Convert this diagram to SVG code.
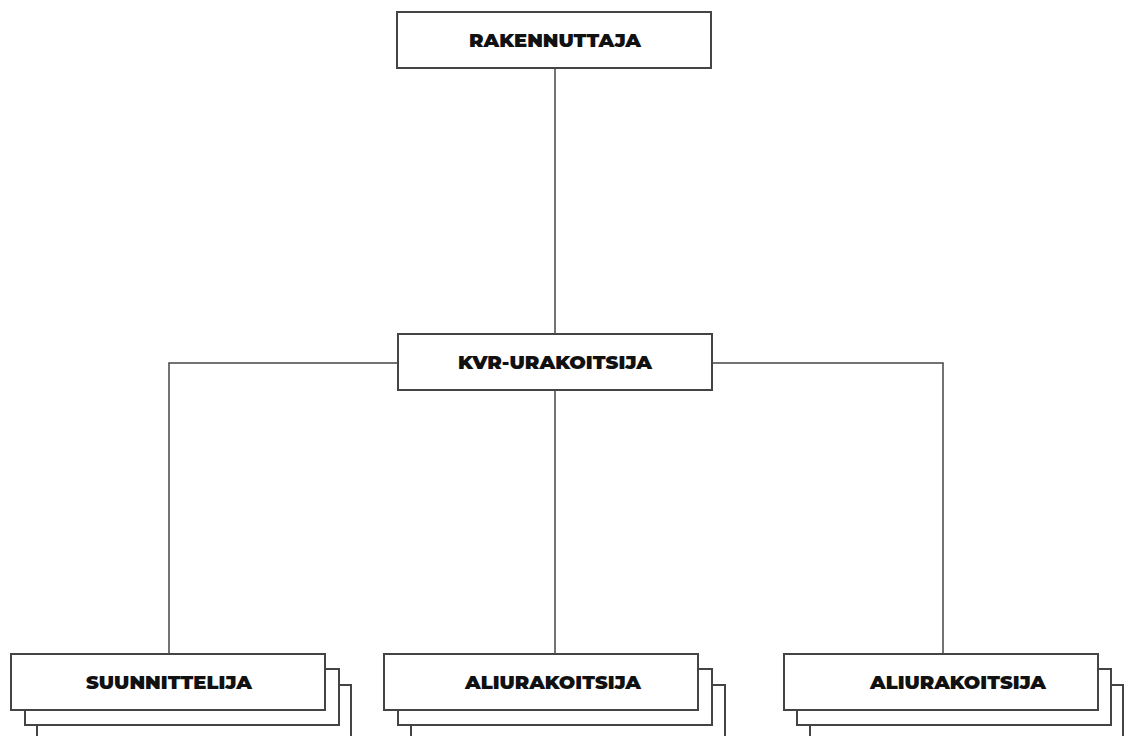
<svg xmlns="http://www.w3.org/2000/svg" width="1125" height="736" viewBox="0 0 1125 736">
<style>
.box{fill:#fff;stroke:#444;stroke-width:2}
.con{fill:none;stroke:#444;stroke-width:1.5}
.lbl{font-family:"Montserrat","Lato","Open Sans","Liberation Sans",sans-serif;font-weight:900;font-size:18px;fill:#111;text-anchor:middle}
</style>
<rect width="1125" height="736" fill="#fff"/>
<g id="connectors">
<path class="con" d="M555 68V334"/>
<path class="con" d="M398 363H169V654"/>
<path class="con" d="M712 363H943V654"/>
<path class="con" d="M555 390V654"/>
</g>
<g id="rakennuttaja">
<rect class="box" x="397" y="12" width="314" height="56"/>
<text class="lbl" x="555" y="47" textLength="172" lengthAdjust="spacingAndGlyphs">RAKENNUTTAJA</text>
</g>
<g id="kvr-urakoitsija">
<rect class="box" x="398" y="334" width="314" height="56"/>
<text class="lbl" x="555" y="369" textLength="194" lengthAdjust="spacingAndGlyphs">KVR-URAKOITSIJA</text>
</g>
<g id="suunnittelija">
<rect class="box" x="37" y="685" width="314" height="56"/>
<rect class="box" x="25" y="669" width="314" height="56"/>
<rect class="box" x="11" y="654" width="314" height="56"/>
<text class="lbl" x="169" y="689" textLength="166" lengthAdjust="spacingAndGlyphs">SUUNNITTELIJA</text>
</g>
<g id="aliurakoitsija-1">
<rect class="box" x="411" y="685" width="314" height="56"/>
<rect class="box" x="398" y="669" width="314" height="56"/>
<rect class="box" x="384" y="654" width="314" height="56"/>
<text class="lbl" x="553" y="689" textLength="176" lengthAdjust="spacingAndGlyphs">ALIURAKOITSIJA</text>
</g>
<g id="aliurakoitsija-2">
<rect class="box" x="810" y="685" width="313" height="56"/>
<rect class="box" x="797" y="669" width="314" height="56"/>
<rect class="box" x="784" y="654" width="314" height="56"/>
<text class="lbl" x="958" y="689" textLength="176" lengthAdjust="spacingAndGlyphs">ALIURAKOITSIJA</text>
</g>
</svg>
